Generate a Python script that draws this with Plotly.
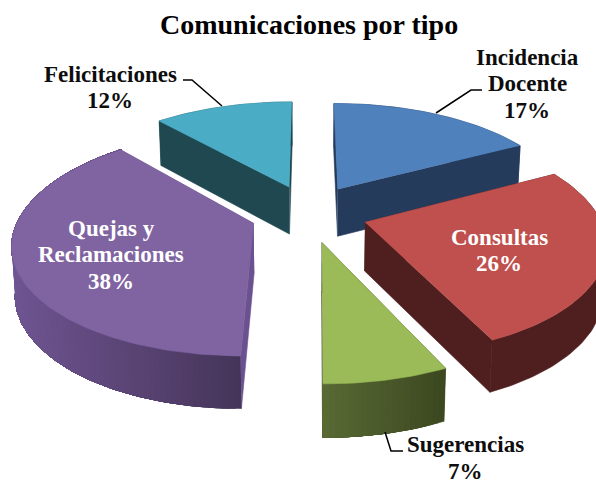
import numpy as np
import plotly.graph_objects as go

categories = ["Incidencia Docente", "Consultas", "Sugerencias", "Quejas y Reclamaciones", "Felicitaciones"]
label_lines = [["Incidencia", "Docente"], ["Consultas"], ["Sugerencias"], ["Quejas y", "Reclamaciones"], ["Felicitaciones"]]
values = [17.2, 25.9, 7.0, 38.4, 11.5]
top_colors = ["#4f81bd", "#c0504d", "#9bbb59", "#8064a2", "#4bacc6"]
cut_colors = ["#253b5c", "#4f1f1f", "#3e4a20", "#6b5190", "#1f4850"]
wall_left = ["#253b5c", "#4f1f1f", "#5a6b35", "#6f5592", "#1f4850"]
wall_right = ["#253b5c", "#4f1f1f", "#3c4820", "#46355a", "#1f4850"]
label_colors = ["#0d0d0d", "#ffffff", "#0d0d0d", "#ffffff", "#0d0d0d"]
label_x = [527, 499, 465, 111, 110]
label_y = [57, 237, 444.5, 228, 74]

W, H = 596, 486
CX, CY = 309, 213
A, B, K = 233, 107, 0.165
DEPTH, KD, EXPLODE_X, EXPLODE_Y = 48, 0.08, 0.25, 0.27
LINE_PITCH = 26.5


def project(u, v, z=0.0):
    f = 1 + K * v
    shrink = 1 - 0.012 * z
    return CX + shrink * A * u / f, CY - B * v / f + z * DEPTH / (1 + KD * v)


def hex_mix(a, b, t):
    ca = [int(a[i:i + 2], 16) for i in (1, 3, 5)]
    cb = [int(b[i:i + 2], 16) for i in (1, 3, 5)]
    return "#%02x%02x%02x" % tuple(round(p + (q - p) * t) for p, q in zip(ca, cb))


def poly(fig, xs, ys, color):
    fig.add_trace(go.Scatter(x=list(xs), y=list(ys), mode="lines", fill="toself", fillcolor=color,
                             line=dict(color=color, width=0.6), hoverinfo="skip", showlegend=False))


fig = go.Figure()
total = sum(values)
edges = np.cumsum([0] + values) / total * 2 * np.pi
for i in [4, 0, 3, 2, 1]:
    t0, t1 = edges[i], edges[i + 1]
    mid = (t0 + t1) / 2
    ou, ov = EXPLODE_X * np.sin(mid), EXPLODE_Y * np.cos(mid)
    th = np.linspace(t0, t1, max(14, int(values[i] * 3)))
    us, vs = ou + np.sin(th), ov + np.cos(th)
    # cut faces
    for t in (t0, t1):
        eu, ev = ou + np.sin(t), ov + np.cos(t)
        p = [project(ou, ov), project(eu, ev), project(eu, ev, 1), project(ou, ov, 1)]
        poly(fig, [q[0] for q in p], [q[1] for q in p], cut_colors[i])
    # outer wall, painted in overlapping bands so the gradient has no seams
    top = [project(a, b) for a, b in zip(us, vs)]
    bot = [project(a, b, 1) for a, b in zip(us, vs)]
    flat = wall_left[i] == wall_right[i]
    xs_top = [q[0] for q in top]
    x_right, x_left = max(xs_top), min(xs_top)
    for j in range(1 if flat else len(th) - 1):
        frac = (x_right - xs_top[j]) / (x_right - x_left)
        c = hex_mix(wall_right[i], wall_left[i], frac)
        poly(fig, [q[0] for q in top[j:]] + [q[0] for q in bot[j:]][::-1],
             [q[1] for q in top[j:]] + [q[1] for q in bot[j:]][::-1], c)
    # top face
    ap = project(ou, ov)
    poly(fig, [ap[0]] + [q[0] for q in top], [ap[1]] + [q[1] for q in top], top_colors[i])

annotations = [dict(x=309, y=24, xref="x", yref="y", text="<b>Comunicaciones por tipo</b>", showarrow=False,
                    font=dict(family="Liberation Serif", size=28, color="#000000"))]
for lines, val, col, lx, ly in zip(label_lines, values, label_colors, label_x, label_y):
    for n, txt in enumerate(lines + [f"{val:.0f}%"]):
        annotations.append(dict(x=lx, y=ly + n * LINE_PITCH, xref="x", yref="y",
                                text=f"<b>{txt}</b>", showarrow=False,
                                font=dict(family="Liberation Serif", size=23, color=col)))

leaders = ["M 183 80 L 192 80 L 222 106", "M 482 90 L 471 90 L 436 113", "M 385 432 L 391 451 L 403 451"]
shapes = [dict(type="path", path=p, xref="x", yref="y", line=dict(color="#000000", width=1.5)) for p in leaders]

fig.update_layout(width=W, height=H, margin=dict(l=0, r=0, t=0, b=0), showlegend=False,
                  paper_bgcolor="#ffffff", plot_bgcolor="#ffffff", annotations=annotations, shapes=shapes,
                  xaxis=dict(range=[0, W], visible=False, fixedrange=True),
                  yaxis=dict(range=[H, 0], visible=False, fixedrange=True))
fig.write_html("out.html", config={"displayModeBar": False},
               post_script="document.body.style.margin='0';document.body.style.overflow='hidden';")
